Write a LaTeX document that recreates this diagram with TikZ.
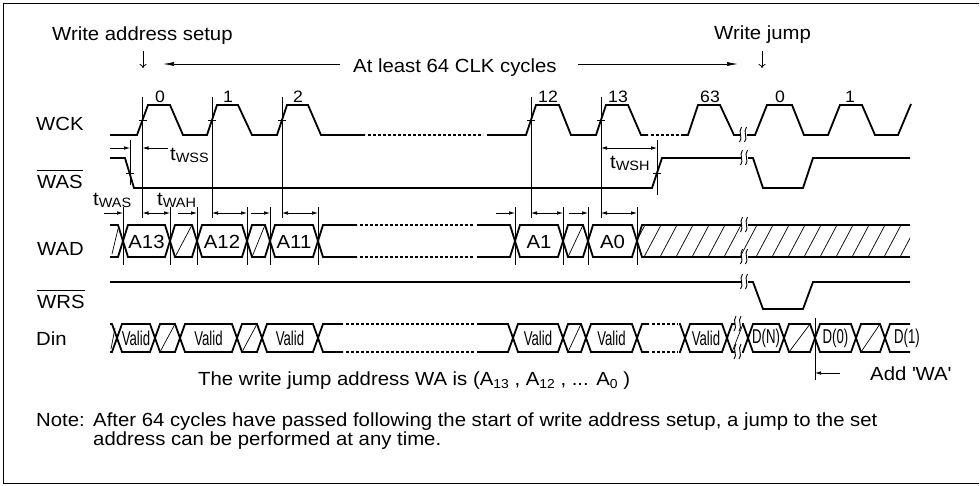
\documentclass[tikz,border=0pt]{standalone}
\usepackage{fontspec}
\setmainfont[FakeStretch=1.07]{Liberation Sans}
\newfontfamily\narrowfont[FakeStretch=0.66]{Liberation Sans}
\usetikzlibrary{arrows.meta,calc}
\newcommand\tsub[1]{t\raisebox{-2.5pt}{\fontsize{13.5}{14}\selectfont #1}}
\newcommand\asub[1]{A\raisebox{-3pt}{\fontsize{13}{14}\selectfont #1}}
\newcommand\brkmark[2]{%
  \fill[white] ({#1-3.5},{#2-2}) rectangle ({#1+3.5},{#2+2});
  \draw[brk] ({#1-4},{#2+7}) .. controls ({#1},{#2+3}) and ({#1-6},{#2-3}) .. ({#1-2},{#2-8});
  \draw[brk] ({#1+1},{#2+7}) .. controls ({#1+5},{#2+3}) and ({#1-1},{#2-3}) .. ({#1+3},{#2-8});
}
\newcommand\hexbox[5]{%
  \draw[sig] (#1,#4) -- ({#1+5},#3) -- ({#2-5},#3) -- (#2,#4) -- ({#2-5},#5) -- ({#1+5},#5) -- cycle;}
\begin{document}
\begin{tikzpicture}[x=1pt,y=-1pt,
 sig/.style={line width=1.8pt,line join=miter},
 dotsig/.style={line width=1.8pt,dash pattern=on 2.5pt off 2.5pt},
 thn/.style={line width=0.7pt},
 brk/.style={line width=0.9pt},
 hat/.style={line width=0.7pt},
 dimar/.style={thn,-{Latex[length=6pt,width=3.6pt]}},
 dimbi/.style={thn,{Latex[length=6pt,width=3.6pt]}-{Latex[length=6pt,width=3.6pt]}},
 longar/.style={thn,-{Latex[length=11pt,width=4pt]}},
 downar/.style={line width=0.8pt,-{To[length=4pt,width=7pt]}},
 txt/.style={inner sep=0pt,font=\fontsize{19}{22}\selectfont},
 num/.style={inner sep=0pt,font=\fontsize{16.5}{18}\selectfont},
 dat/.style={inner sep=0pt,font=\narrowfont\fontsize{20}{21}\selectfont},
 ovl/.style={line width=1pt}]
\useasboundingbox (0,0) rectangle (980,485);
% frame
\draw[line width=1pt] (979,3) -- (3,3) -- (3,483) -- (979,483);

% ---------- header texts ----------
\node[txt,anchor=base west] (setup) at (52,40) {Write address setup};
\node[txt,anchor=base west] (jump) at (714,39) {Write jump};
\node[txt,anchor=base west] (least) at (353,72) {At least 64 CLK cycles};
\coordinate (lstart) at (163,64);
\coordinate (lend) at (738,64);
\draw[longar] ([xshift=-13pt,yshift=8pt]least.base west) -- (lstart);
\draw[longar] ([xshift=21pt,yshift=8pt]least.base east) -- (lend);
\coordinate (d1a) at (143,51); \coordinate (d1b) at (143,68);
\coordinate (d2a) at (762,51); \coordinate (d2b) at (762,68);
\draw[downar] (d1a) -- (d1b);
\draw[downar] (d2a) -- (d2b);

% ---------- signal names ----------
\node[txt,anchor=base west] (wck) at (36,130) {WCK};
\node[txt,anchor=base west] (was) at (37,188) {WAS};
\node[txt,anchor=base west] (wad) at (37,255) {WAD};
\node[txt,anchor=base west] (wrs) at (37,308) {WRS};
\node[txt,anchor=base west] (din) at (36,345) {Din};
\draw[ovl] ($(was.north west)+(0,-4)$) -- ($(was.north east)+(0,-4)$);
\draw[ovl] ($(wrs.north west)+(0,-4)$) -- ($(wrs.north east)+(0,-4)$);

% ---------- WCK ----------
\draw[sig] (110,135) -- (137,135) -- (148,105) -- (170,105) -- (183,135) -- (207,135) -- (217,105) -- (238,105) -- (252,135) -- (277,135) -- (287,105) -- (308,105) -- (321,135) -- (365,135);
\draw[dotsig] (368,135) -- (483,135);
\draw[sig] (487,135) -- (526,135) -- (536,105) -- (559,105) -- (571,135) -- (596,135) -- (606,105) -- (628,105) -- (641,135) -- (648,135);
\draw[dotsig] (651,135) -- (680,135);
\draw[sig] (681,135) -- (688,135) -- (698,105) -- (720,105) -- (734,135) -- (740,135);
\draw[sig] (747,135) -- (755,135) -- (767,105) -- (792,105) -- (804,135) -- (828,135) -- (840,105) -- (862,105) -- (875,135) -- (898,135) -- (911,104);
\brkmark{743.5}{135}
\foreach \x in {142.5,212,282,531,601} {
  \draw[thn] ({\x-4},120) -- ({\x+4},120);
  \draw[thn] (\x,97) -- (\x,218);
}
\foreach \x/\t [count=\i] in {160/0,228/1,298/2,548/12,618/13,710/63,780/0,850/1}
  \node[num,anchor=base] (cn\i) at (\x,102) {\t};

% ---------- WAS ----------
\draw[sig] (110,158) -- (125,158) -- (134,188) -- (652,188) -- (662,158) -- (741,158);
\draw[sig] (748,158) -- (753,158) -- (763,188) -- (803,188) -- (813,158) -- (910,158);
\brkmark{744.5}{158}
\draw[thn] (130,140) -- (130,185);
\draw[thn] (126,173) -- (134,173);
\draw[thn] (657,140) -- (657,195);
\draw[thn] (653,173) -- (661,173);
\draw[dimar] (110,148) -- (130,148);
\draw[dimar] (168,148) -- (142.5,148);
\draw[dimbi] (601,148) -- (657,148);
\node[txt,anchor=base west] (twss) at (170,160) {\tsub{WSS}};
\node[txt,anchor=base west] (twsh) at (610,168) {\tsub{WSH}};

% ---------- WAD ----------
\draw[sig] (110,225) -- (118,225) -- (123,241) -- (118,257) -- (110,257);
\draw[hat] (112,254) -- (118,229);
\foreach \a/\b/\t [count=\i] in {123/170/A13,197/247/A12,270/318/A11,515/563/A1,588/637/A0} {
  \hexbox{\a}{\b}{225}{241}{257}
  \node[txt] (ad\i) at ({(\a+\b)/2},242) {\t};
}
\foreach \a/\b in {170/197,247/270,563/588} {
  \hexbox{\a}{\b}{225}{241}{257}
  \draw[hat] ({\a+5},257) -- ({\b-5},225);
}
\draw[sig] (318,241) -- (323,225) -- (357,225);
\draw[sig] (318,241) -- (323,257) -- (357,257);
\draw[dotsig] (360,225) -- (474,225);
\draw[dotsig] (360,257) -- (474,257);
\draw[sig] (477,225) -- (510,225) -- (515,241) -- (510,257) -- (477,257);
\begin{scope}
  \clip (637,241) -- (642,225) -- (910,225) -- (910,257) -- (642,257) -- cycle;
  \foreach \x in {628,644,...,916} \draw[hat] (\x,257) -- ({\x+17},225);
\end{scope}
\draw[sig] (637,241) -- (642,225) -- (741,225);
\draw[sig] (637,241) -- (642,257) -- (741,257);
\draw[sig] (748,225) -- (910,225);
\draw[sig] (748,257) -- (910,257);
\brkmark{744.5}{225}
\brkmark{744.5}{257}
% WAD timing marks
\foreach \x in {123,170,197,247,270,318,515,563,588,637}
  \draw[thn] (\x,207) -- (\x,265);
\foreach \a in {123,197,270,515,588}
  \draw[dimar] ({\a-19},213) -- (\a,213);
\foreach \a/\b in {142.5/170,212/247,282/318,531/563,601/637}
  \draw[dimbi] (\a,213) -- (\b,213);
\node[txt,anchor=base west] (twas) at (93,205) {\tsub{WAS}};
\node[txt,anchor=base west] (twah) at (157,205) {\tsub{WAH}};

% ---------- WRS ----------
\draw[sig] (110,282) -- (741,282);
\draw[sig] (748,282) -- (753,282) -- (763,309) -- (803,309) -- (813,282) -- (910,282);
\brkmark{744.5}{282}

% ---------- Din ----------
\draw[sig] (110,324) -- (112,324) -- (117,338) -- (112,352) -- (110,352);
\draw[hat] (111,349) -- (115,328);
\foreach \a/\b/\t [count=\i] in {117/155/Valid,180/237/Valid,262/318/Valid,513/563/Valid,586/637/Valid,685/727/Valid,748/784/D(N),815/856/D(0)} {
  \hexbox{\a}{\b}{324}{338}{352}
  \node[dat] (dv\i) at ({(\a+\b)/2},338) {\t};
}
\foreach \a/\b in {155/180,237/262,563/586,727/748,784/815,856/885} {
  \hexbox{\a}{\b}{324}{338}{352}
  \draw[hat] ({\a+5},352) -- ({\b-5},324);
}
\brkmark{738}{324}
\brkmark{738}{352}
\draw[sig] (885,338) -- (890,324) -- (910,324);
\draw[sig] (885,338) -- (890,352) -- (910,352);
\node[dat] (dv9) at (907,338) {D(1)};
\draw[sig] (318,338) -- (323,324) -- (343,324);
\draw[sig] (318,338) -- (323,352) -- (343,352);
\draw[dotsig] (346,324) -- (475,324);
\draw[dotsig] (346,352) -- (475,352);
\draw[sig] (477,324) -- (508,324) -- (513,338) -- (508,352) -- (477,352);
\draw[sig] (637,338) -- (642,324) -- (649,324);
\draw[sig] (637,338) -- (642,352) -- (649,352);
\draw[dotsig] (652,324) -- (678,324);
\draw[dotsig] (652,352) -- (678,352);
\draw[sig] (679,324) -- (680,324) -- (685,338) -- (680,352) -- (679,352);
% Add WA
\draw[thn] (815,318) -- (815,380);
\coordinate (wastart) at (840,373);
\coordinate (waend) at (815,373);
\draw[dimar] (wastart) -- (waend);
\node[txt,anchor=base west] (addwa) at (870,380) {Add \textquotesingle WA\textquotesingle};

% ---------- bottom texts ----------
\node[txt,anchor=base west] (wa) at (198,385) {The write jump address WA is (\asub{13} , \asub{12} , ... \asub{0} )};
\node[txt,anchor=base west] (note) at (36,426) {Note:};
\node[txt,anchor=base west] (n1) at (93,426) {After 64 cycles have passed following the start of write address setup, a jump to the set};
\node[txt,anchor=base west] (n2) at (93,445) {address can be performed at any time.};
\end{tikzpicture}
\end{document}
